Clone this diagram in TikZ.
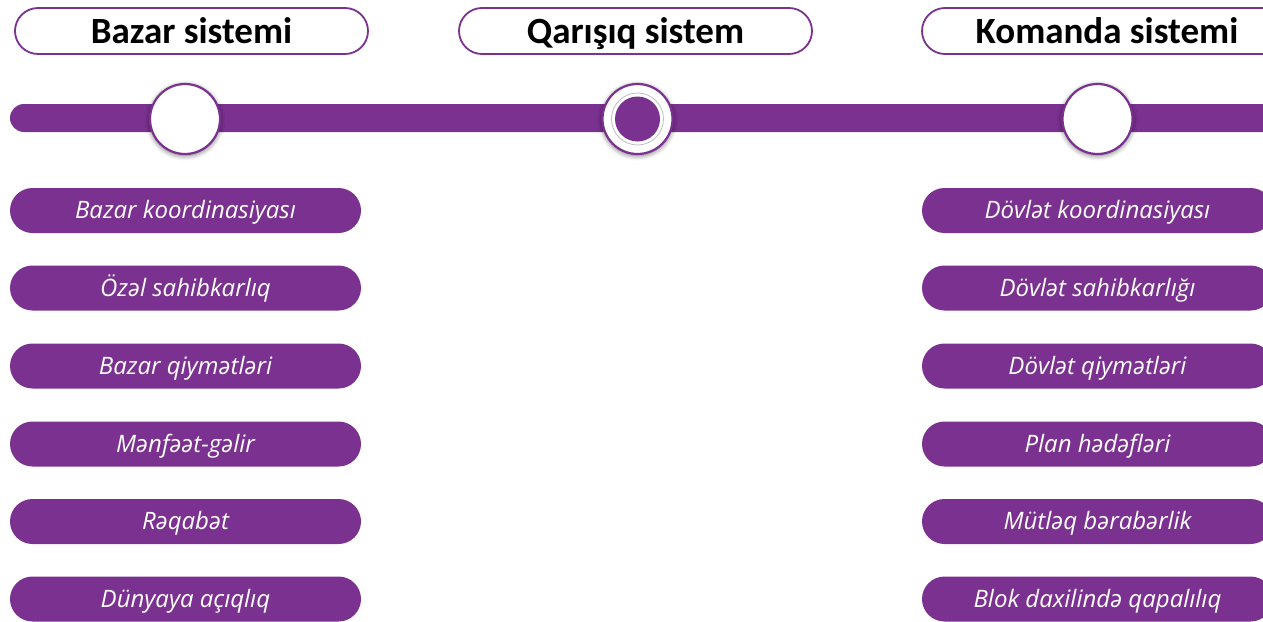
\documentclass[tikz,border=0pt]{standalone}
\usepackage{fontspec}
\setmainfont{Carlito}
\newfontfamily\pillfont{Open Sans}
\usetikzlibrary{shadows.blur}
\definecolor{vio}{HTML}{7B3190}
\begin{document}
\begin{tikzpicture}[x=1pt,y=-1pt,
  header/.style={draw=vio, line width=1.8pt, fill=white, rounded corners=23pt,
    minimum height=46pt, inner sep=0pt, text=black, text height=26pt, text depth=2pt,
    font=\fontsize{37}{39}\selectfont\bfseries},
  pill/.style={fill=vio, rounded corners=22.5pt, minimum height=45pt,
    minimum width=351pt, inner sep=0pt, text=white, text height=18pt, text depth=2pt,
    font=\pillfont\fontsize{24}{26}\selectfont\itshape},
  knob/.style={circle, draw=vio, line width=2.2pt, fill=white, minimum size=70pt,
    inner sep=0pt, blur shadow={shadow xshift=0pt, shadow yshift=-1.5pt,
    shadow blur radius=5pt, shadow opacity=60}}]
\useasboundingbox (0,0) rectangle (1263,621);
\clip (0,0) rectangle (1263,621);
% track
\fill[vio, rounded corners=14pt] (10,104) rectangle (1300,132);
% headers
\node[header, minimum width=353pt] (hb) at (191.5,31) {Bazar sistemi};
\node[header, minimum width=353pt] (hq) at (635.5,31) {Qarışıq sistem};
\node[header, minimum width=370pt] (hk) at (1107,31) {Komanda sistemi};
% knobs
\node[knob] (cb) at (185,119) {};
\node[knob] (cq) at (637.5,119) {};
\node[circle, draw=black!25, fill=white, line width=0.8pt, minimum size=52pt, inner sep=0pt] (cqr) at (cq) {};
\node[circle, fill=vio, minimum size=45pt, inner sep=0pt] (cqi) at (cq) {};
\node[knob] (ck) at (1097.5,119) {};
% left pills
\node[pill] (l1) at (185.5,210.5) {Bazar koordinasiyası};
\node[pill] (l2) at (185.5,288) {Özəl sahibkarlıq};
\node[pill] (l3) at (185.5,366) {Bazar qiymətləri};
\node[pill] (l4) at (185.5,444) {Mənfəət-gəlir};
\node[pill] (l5) at (185.5,521.5) {Rəqabət};
\node[pill] (l6) at (185.5,599) {Dünyaya açıqlıq};
% right pills
\node[pill] (r1) at (1097.5,210.5) {Dövlət koordinasiyası};
\node[pill] (r2) at (1097.5,288) {Dövlət sahibkarlığı};
\node[pill] (r3) at (1097.5,366) {Dövlət qiymətləri};
\node[pill] (r4) at (1097.5,444) {Plan hədəfləri};
\node[pill] (r5) at (1097.5,521.5) {Mütləq bərabərlik};
\node[pill] (r6) at (1097.5,599) {Blok daxilində qapalılıq};
\end{tikzpicture}
\end{document}
